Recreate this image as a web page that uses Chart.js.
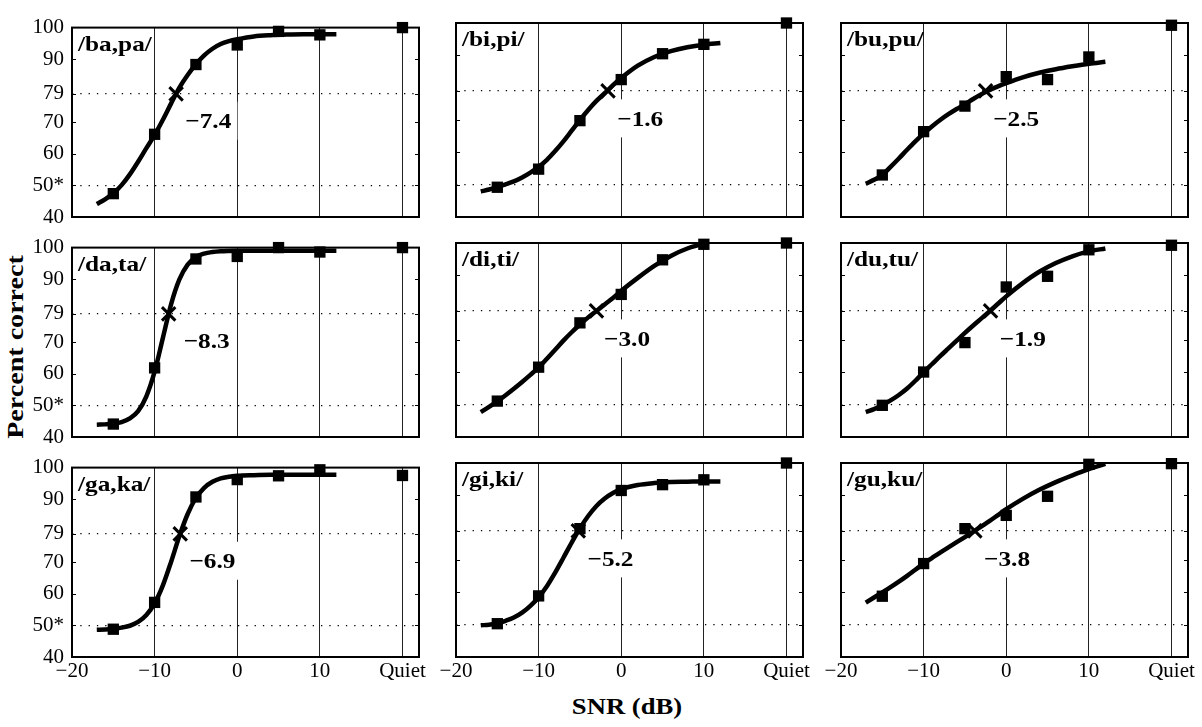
<!DOCTYPE html>
<html><head><meta charset="utf-8">
<script src="https://cdn.jsdelivr.net/npm/chart.js@4.4.0/dist/chart.umd.min.js"></script>
<style>
html,body{margin:0;padding:0;background:#fff;}
#wrap{position:relative;width:1202px;height:727px;overflow:hidden;background:#fff;}
#wrap canvas{position:absolute;}
.lbl{position:absolute;font-family:"Liberation Serif","Times New Roman",serif;font-weight:bold;color:#000;white-space:nowrap;line-height:1;font-size:24px;}
#ylab{left:15px;top:347px;transform:translate(-50%,-50%) rotate(-90deg) scale(1.17,1);}
#xlab{left:627px;top:706px;transform:translate(-50%,-50%) scale(1.11,1);}
</style></head><body>
<div id="wrap">
<div class="lbl" id="ylab">Percent correct</div>
<div class="lbl" id="xlab">SNR (dB)</div>
</div>
<script>
// ---------- data ----------
const panelNames = ['/ba,pa/','/bi,pi/','/bu,pu/','/da,ta/','/di,ti/','/du,tu/','/ga,ka/','/gi,ki/','/gu,ku/'];
const snrLevels = [-15, -10, -5, 0, 5, 10];
const quietPosition = 20;
const xTickValues = [-20, -10, 0, 10, 20];
const xTickLabels = ['\u221220', '\u221210', '0', '10', 'Quiet'];
const yTickValues = [40, 50, 60, 70, 79, 90, 100];
const yTickLabels = ['40', '50*', '60', '70', '79', '90', '100'];
const dottedLevels = [50, 79];
const criterionLevel = 79;
const thresholds = [-7.4, -1.6, -2.5, -8.3, -3.0, -1.9, -6.9, -5.2, -3.8];
const quietScores = [100, 100, 99.3, 100, 100, 99.3, 97.5, 100, 99.8];

const scoresBaPa = [47.4, 66.2, 88.3, 94.5, 98.8, 97.7];
const scoresBiPi = [49.2, 54.8, 69.8, 82.5, 90.5, 93.4];
const scoresBuPu = [53.0, 66.4, 74.3, 83.4, 82.5, 89.5];
const scoresDaTa = [44.1, 61.9, 96.4, 97.2, 100, 98.6];
const scoresDiTi = [51.1, 61.6, 75.3, 84.1, 94.8, 99.6];
const scoresDuTu = [49.8, 60.1, 69.2, 86.4, 89.7, 97.9];
const scoresGaKa = [48.8, 57.3, 90.7, 96.2, 97.4, 99.3];
const scoresGiKi = [50.3, 58.9, 79.7, 91.5, 93.3, 94.8];
const scoresGuKu = [58.8, 68.9, 79.7, 83.8, 89.7, 99.6];

const fitX = [-17,-16,-15,-14,-13,-12,-11,-10,-9,-8,-7,-6,-5,-4,-3,-2,-1,0,2,4,6,8,10,12];
const fitBaPa = [44.1,45.6,47.5,50.1,53.5,57.5,61.8,66.0,70.8,76.0,81.0,85.0,88.4,91.2,93.3,94.8,95.7,96.3,97.2,97.6,97.8,97.9,97.9,97.9];
const fitBiPi = [47.9,48.5,49.3,50.1,51.0,52.2,53.7,55.5,57.7,60.4,63.4,66.7,70.0,73.1,75.9,78.3,80.8,83.0,86.8,89.5,91.3,92.5,93.3,93.8];
const fitBuPu = [50.3,51.5,53.0,55.5,58.1,60.8,63.4,65.8,68.0,70.0,71.8,73.4,74.9,76.5,78.0,79.3,80.4,81.4,83.2,84.6,85.7,86.6,87.4,88.0];
const fitDaTa = [43.9,44.0,44.2,44.7,45.9,48.2,52.9,60.7,71.4,82.1,89.9,94.6,97.0,98.1,98.6,98.85,98.95,99.0,99.0,99.0,99.0,99.0,99.0,99.0];
const fitDiTi = [47.7,49.3,51.0,52.9,54.9,57.0,59.2,61.5,64.2,67.0,69.8,72.4,74.8,77.0,79.0,81.0,83.0,85.2,89.2,92.9,96.0,98.3,99.8,null];
const fitDuTu = [47.7,48.6,49.8,51.3,53.0,55.0,57.4,60.0,62.5,65.0,67.4,69.8,72.2,74.5,76.7,78.9,81.2,83.5,87.6,91.1,93.8,95.9,97.4,98.3];
const fitGaKa = [48.6,48.7,48.9,49.3,49.9,51.1,53.3,57.0,62.7,70.2,78.3,85.3,90.4,93.6,95.5,96.6,97.1,97.4,97.6,97.7,97.7,97.7,97.7,97.7];
const fitGiKi = [49.8,50.0,50.4,51.2,52.2,53.7,55.8,58.5,61.9,66.1,70.7,75.4,79.8,83.6,86.7,89.0,90.7,91.9,93.2,93.8,94.1,94.2,94.3,94.3];
const fitGuKu = [56.8,58.4,60.0,61.6,63.3,65.1,67.0,68.9,70.6,72.3,73.9,75.5,77.1,78.7,80.4,82.1,83.9,85.7,88.9,91.7,94.1,96.2,98.1,99.7];

const allScores = [scoresBaPa, scoresBiPi, scoresBuPu, scoresDaTa, scoresDiTi, scoresDuTu, scoresGaKa, scoresGiKi, scoresGuKu];
const allFits = [fitBaPa, fitBiPi, fitBuPu, fitDaTa, fitDiTi, fitDuTu, fitGaKa, fitGiKi, fitGuKu];

// ---------- layout (not data) ----------
const FONT = "'Liberation Serif','Times New Roman',serif";
const frameLeft = [72, 456, 841];
const frameTop = [23, 243, 463];
const frameW = 347, frameH = 194;
const PADL = 80, PADT = 16, PADR = 30, PADB = 40;
const labelDx = [3.9, 3.9, 3.7, 4.6, 3.7, 3.9, 3.9, 3.9, 3.9];
const labelY = 70.5;
const STRETCH = 1.15;

Chart.defaults.font.family = FONT;

function stretchedText(ctx, text, x, y, align) {
  ctx.save();
  ctx.translate(x, y);
  ctx.scale(STRETCH, 1);
  ctx.textAlign = align;
  ctx.textBaseline = 'alphabetic';
  ctx.fillText(text, 0, 0);
  ctx.restore();
}

const panelPlugin = {
  id: 'panelDeco',
  beforeDatasetsDraw(chart) {
    const {ctx, chartArea: a, scales} = chart;
    const i = chart.options.plugins.panelDeco.index;
    ctx.save();
    ctx.font = 'bold 22px ' + FONT;
    const txt = '\u2212' + Math.abs(thresholds[i]).toFixed(1);
    const w = ctx.measureText(txt).width * STRETCH;
    const cx = scales.x.getPixelForValue(thresholds[i] + labelDx[i]);
    const cy = scales.y.getPixelForValue(labelY);
    ctx.fillStyle = '#fff';
    ctx.fillRect(cx - w / 2 - 6, cy - 19, w + 12, 38);
    ctx.strokeStyle = '#000';
    ctx.lineWidth = 1;
    yTickValues.forEach(v => {
      if (v === 40 || v === 100) return;
      const py = Math.round(scales.y.getPixelForValue(v)) + 0.5;
      ctx.beginPath();
      ctx.moveTo(a.left, py); ctx.lineTo(a.left + 4, py);
      ctx.moveTo(a.right - 4, py); ctx.lineTo(a.right, py);
      ctx.stroke();
    });
    ctx.lineWidth = 2;
    ctx.strokeRect(a.left, a.top, a.right - a.left, a.bottom - a.top);
    ctx.restore();
  },
  afterDraw(chart) {
    const {ctx, chartArea: a, scales} = chart;
    const i = chart.options.plugins.panelDeco.index;
    ctx.save();
    ctx.fillStyle = '#000';
    ctx.font = 'bold 22px ' + FONT;
    stretchedText(ctx, panelNames[i], a.left + 6, a.top + 23, 'left');
    const txt = '\u2212' + Math.abs(thresholds[i]).toFixed(1);
    const cx = scales.x.getPixelForValue(thresholds[i] + labelDx[i]);
    const cy = scales.y.getPixelForValue(labelY);
    stretchedText(ctx, txt, cx, cy + 7.5, 'center');
    ctx.restore();
  }
};

const wrap = document.getElementById('wrap');
for (let i = 0; i < 9; i++) {
  const r = Math.floor(i / 3), c = i % 3;
  const cv = document.createElement('canvas');
  const W = PADL + frameW + PADR, H = PADT + frameH + PADB;
  cv.width = W; cv.height = H;
  cv.style.width = W + 'px'; cv.style.height = H + 'px';
  cv.style.left = (frameLeft[c] - PADL) + 'px';
  cv.style.top = (frameTop[r] - PADT) + 'px';
  wrap.appendChild(cv);

  const fitData = fitX.map((x, k) => ({x: x, y: allFits[i][k]}));
  const scoreData = snrLevels.map((x, k) => ({x: x, y: allScores[i][k]}));
  scoreData.push({x: quietPosition, y: quietScores[i]});

  new Chart(cv, {
    type: 'line',
    data: {
      datasets: [
        {label: 'fit', data: fitData, borderColor: '#000', borderWidth: 4.5, pointRadius: 0,
         cubicInterpolationMode: 'monotone', fill: false, order: 2, spanGaps: false},
        {label: 'scores', data: scoreData, showLine: false, pointStyle: 'rect', pointRadius: 8,
         backgroundColor: '#000', borderColor: '#000', borderWidth: 0, clip: false, order: 1},
        {label: 'threshold', data: [{x: thresholds[i], y: criterionLevel}], showLine: false,
         pointStyle: 'crossRot', pointRadius: 9.5, borderColor: '#000', backgroundColor: '#000',
         borderWidth: 3, clip: false, order: 0}
      ]
    },
    options: {
      responsive: false, animation: false, devicePixelRatio: 1, events: [],
      layout: {padding: {left: 0, top: PADT, right: PADR, bottom: 0}},
      plugins: {legend: {display: false}, tooltip: {enabled: false}, panelDeco: {index: i}},
      scales: {
        x: {
          type: 'linear', min: -20, max: 22,
          afterBuildTicks: s => { s.ticks = xTickValues.map(v => ({value: v})); },
          afterFit: s => { s.height = PADB; },
          grid: {color: ctx => (ctx.tick && ctx.tick.value > -20) ? '#222' : 'rgba(0,0,0,0)', lineWidth: 1, drawTicks: false},
          border: {display: false},
          ticks: {display: r === 2, color: '#000', font: {size: 21, family: FONT}, padding: 2,
                  maxRotation: 0, autoSkip: false, callback: (v, idx) => xTickLabels[idx]}
        },
        y: {
          type: 'linear', min: 40, max: 100,
          afterBuildTicks: s => { s.ticks = yTickValues.map(v => ({value: v})); },
          afterFit: s => { s.width = PADL; },
          grid: {color: ctx => (ctx.tick && dottedLevels.includes(ctx.tick.value)) ? '#000' : 'rgba(0,0,0,0)', lineWidth: 1.3, drawTicks: false},
          border: {display: false, dash: [1.3, 7]},
          ticks: {display: c === 0, color: '#000', font: {size: 21, family: FONT}, padding: 8,
                  autoSkip: false, callback: (v, idx) => yTickLabels[idx]}
        }
      }
    },
    plugins: [panelPlugin]
  });
}
</script>
</body></html>
